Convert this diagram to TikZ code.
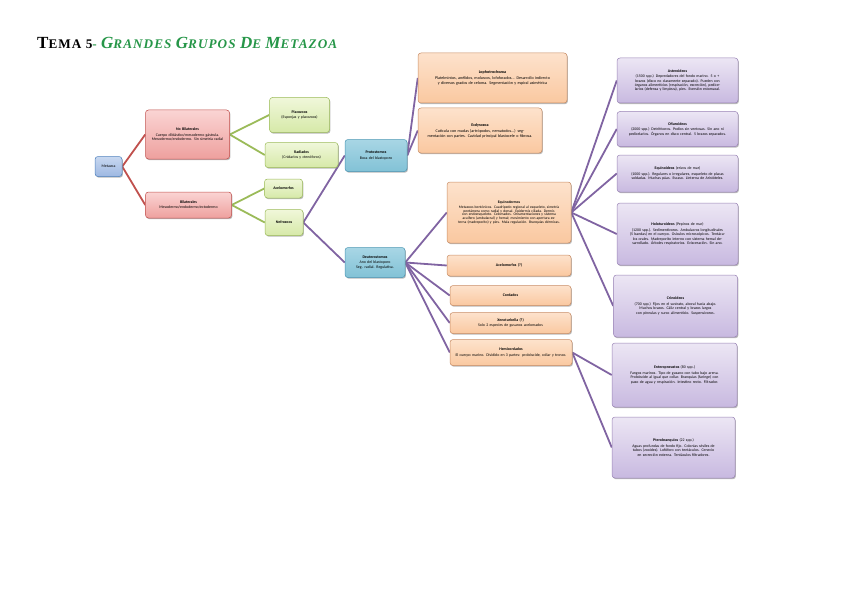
\documentclass[tikz,border=0pt]{standalone}
\usepackage{fontspec}
\setmainfont{Carlito}
\newfontfamily\titlefont[LetterSpace=8]{Liberation Serif}
\usetikzlibrary{shadows}
\pgfdeclarelayer{background}
\pgfsetlayers{background,main}
\definecolor{tgreen}{RGB}{38,150,72}
\definecolor{redline}{RGB}{192,80,77}
\definecolor{greenline}{RGB}{155,187,89}
\definecolor{purpline}{RGB}{128,100,162}
\definecolor{bluedraw}{RGB}{79,129,189}
\definecolor{tealdraw}{RGB}{75,150,180}
\definecolor{orangedraw}{RGB}{200,140,100}
\tikzset{
  box/.style={draw, rounded corners=3pt, line width=0.5pt, align=center, inner sep=1pt,
    font=\fontsize{3.9}{4.4}\selectfont,
    drop shadow={shadow xshift=0.9pt, shadow yshift=-1.2pt, opacity=0.55}},
  bluebox/.style={box, draw=bluedraw, top color={rgb,255:red,200;green,216;blue,240}, bottom color={rgb,255:red,158;green,184;blue,226}},
  tealbox/.style={box, draw=tealdraw, top color={rgb,255:red,168;green,214;blue,229}, bottom color={rgb,255:red,130;green,194;blue,214}},
  redbox/.style={box, draw=redline, top color={rgb,255:red,250;green,212;blue,211}, bottom color={rgb,255:red,238;green,160;blue,158}},
  greenbox/.style={box, draw=greenline, top color={rgb,255:red,240;green,247;blue,218}, bottom color={rgb,255:red,214;green,233;blue,168}},
  orangebox/.style={box, draw=orangedraw, top color={rgb,255:red,253;green,226;blue,204}, bottom color={rgb,255:red,250;green,200;blue,160}},
  purpbox/.style={box, draw=purpline!80, top color={rgb,255:red,236;green,230;blue,244}, bottom color={rgb,255:red,200;green,185;blue,224}},
  rl/.style={draw=redline, line width=1.8pt},
  gl/.style={draw=greenline, line width=1.8pt},
  pl/.style={draw=purpline, line width=1.8pt},
  sz/.style 2 args={minimum width=#1pt, minimum height=#2pt, text width=#1pt-7pt}
}
\begin{document}
\begin{tikzpicture}[x=1pt,y=-1pt]
\useasboundingbox (0,0) rectangle (848,599);

\node[anchor=base west, inner sep=0] (title) at (37,48.5) {\titlefont\bfseries
  {\fontsize{17}{17}\selectfont T}{\fontsize{13.2}{17}\selectfont EMA 5}\textcolor{tgreen}{\fontsize{13.2}{17}\selectfont - \itshape{\fontsize{17}{17}\selectfont G}RANDES {\fontsize{17}{17}\selectfont G}RUPOS {\fontsize{17}{17}\selectfont D}E {\fontsize{17}{17}\selectfont M}ETAZOA}};

% column 1
\node[bluebox, sz={27}{20}] (meta) at (108.5,166.5) {Metazoa};
\node[redbox, sz={84}{49}] (nobil) at (187.5,134.5) {\textbf{No Bilaterales}\\[1pt]Cuerpo diblástico/mesodermo gástrula. Mesodermo/endodermo. Sin simetría radial};
\node[redbox, sz={86}{26}] (bil) at (188.5,205) {\textbf{Bilaterales}\\[1pt]Mesodermo/endodermo/ectodermo};

% column 2
\node[greenbox, sz={60}{35}] (plac) at (299.5,115) {\textbf{Placozoos}\\[1pt](Esponjas y placozoos)};
\node[greenbox, sz={73}{25}] (rad) at (301.5,155) {\textbf{Radiados}\\[1pt](Cnidarios y ctenóforos)};
\node[greenbox, sz={38}{19}] (acel) at (283.5,188.5) {\textbf{Acelomorfos}};
\node[greenbox, sz={38}{26}] (nefro) at (284,222.5) {\textbf{Nefrozoos}};

% column 3
\node[tealbox, sz={62}{32}] (proto) at (376,155.5) {\textbf{Protostomos}\\[1pt]Boca del blastoporo};
\node[tealbox, sz={60}{30}] (deut) at (375,262.5) {\textbf{Deuterostomos}\\[1pt]Ano del blastoporo\\Seg. radial. Regulativa.};

% column 4
\node[orangebox, sz={149}{50}, font=\fontsize{4.1}{5}\selectfont] (loph) at (492.5,78) {\textbf{Lophotrochozoa}\\[1.2pt]Platelmintos, anélidos, moluscos, lofoforados... Desarrollo indirecto y diversos grados de celoma. Segmentación y espiral asimétrica};
\node[orangebox, sz={124}{45}, font=\fontsize{4.1}{5}\selectfont] (ecd) at (480,130.5) {\textbf{Ecdysozoa}\\[1.2pt]Cutícula con mudas (artrópodos, nematodos...) segmentación con partes. Cavidad principal blastocele o fibrosa.};
\node[orangebox, sz={124}{61}, font=\fontsize{3.7}{3.7}\selectfont] (equi) at (509,212.5) {\textbf{Equinodermos}\\[1pt]Metazoos bentónicos. Cuadrípedo regional al esqueleto, simetría pentámera como radial y dorsal. Epidermis ciliada. Dermis con endoesqueleto. Celomados. Ornamentaciones y sistema acuífero (ambulacral) y hemal; movimiento con apertura externa (madreporito) y pies. Mala regulación. Branquias dérmicas.\\[8pt]};
\node[orangebox, sz={124}{21}] (acel2) at (509,265.5) {\textbf{Acelomorfos (?)}};
\node[orangebox, sz={121}{20}] (cord) at (510.5,295.5) {\textbf{Cordados}};
\node[orangebox, sz={121}{21}] (xeno) at (510.5,323) {\textbf{Xenoturbella (?)}\\[1pt]Solo 2 especies de gusanos acelomados};
\node[orangebox, sz={122}{26}] (hemi) at (511,352.5) {\textbf{Hemicordados}\\[1pt]El cuerpo marino. Dividido en 3 partes: probóscide, collar y tronco.};

% column 5
\node[purpbox, sz={121}{45}] (ast) at (677.5,80.5) {\textbf{Asteroideos}\\[1.2pt](1500 spp.) Depredadores del fondo marino. 5 o + brazos (disco no claramente separado). Pueden con órganos alimenticios (respiración, excreción), pedicelarios (defensa y limpieza), pies. Eversión estomacal.};
\node[purpbox, sz={121}{35}] (ofi) at (677.5,129) {\textbf{Ofiuroideos}\\[1.2pt](2000 spp.) Detritívoros. Podios sin ventosas. Sin ano ni pedicelarios. Órganos en disco central. 5 brazos separados.};
\node[purpbox, sz={121}{37}] (erizo) at (677.5,173.5) {\textbf{Equinoideos} (erizos de mar)\\[1.2pt](1000 spp.). Regulares o irregulares, esqueleto de placas soldadas. Muchas púas. Escaso. Linterna de Aristóteles.};
\node[purpbox, sz={121}{62}] (holo) at (677.5,234) {\textbf{Holoturoideos} (Pepinos de mar)\\[1.2pt](1200 spp.). Sedimentívoros. Ambulacros longitudinales (5 bandas) en el cuerpo. Osículos microscópicos. Tentáculos orales. Madreporito interno con sistema hemal desarrollado. Árboles respiratorios. Evisceración. Sin ano.};
\node[purpbox, sz={124}{62}] (crin) at (675.5,306) {\textbf{Crinoideos}\\[1.2pt](700 spp.) Fijos en el sustrato, aboral hacia abajo. Muchos brazos. Cáliz central y brazos largos con pínnulas y surco alimenticio. Suspensívoros.};
\node[purpbox, sz={125}{64}] (ent) at (674.5,375) {\textbf{Enteropneustos} (80 spp.)\\[1.2pt]Fangos marinos. Tipo de gusano con tubo bajo arena. Probóscide al igual que collar. Branquias (faringe) con paso de agua y respiración. Intestino recto. Filtrador.};
\node[purpbox, sz={123}{61}] (pter) at (673.5,447.5) {\textbf{Pterobranquios} (22 spp.)\\[1.2pt]Aguas profundas de fondo fijo. Colonias sésiles de tubos (zooides). Lofóforo con tentáculos. Cenecio en secreción externa. Tentáculos filtradores.};

\begin{pgfonlayer}{background}
\draw[rl] (meta.east) -- (nobil.west);
\draw[rl] (meta.east) -- (bil.west);
\draw[gl] (nobil.east) -- (plac.west);
\draw[gl] (nobil.east) -- (rad.west);
\draw[gl] (bil.east) -- (acel.west);
\draw[gl] (bil.east) -- (nefro.west);
\draw[pl] (nefro.east) -- (proto.west);
\draw[pl] (nefro.east) -- (deut.west);
\draw[pl] (proto.east) -- (loph.west);
\draw[pl] (proto.east) -- (ecd.west);
\foreach \c in {equi,acel2,cord,xeno,hemi}{\draw[pl] (deut.east) -- (\c.west);}
\foreach \c in {ast,ofi,erizo,holo,crin}{\draw[pl] (equi.east) -- (\c.west);}
\draw[pl] (hemi.east) -- (ent.west);
\draw[pl] (hemi.east) -- (pter.west);
\end{pgfonlayer}
\end{tikzpicture}
\end{document}
